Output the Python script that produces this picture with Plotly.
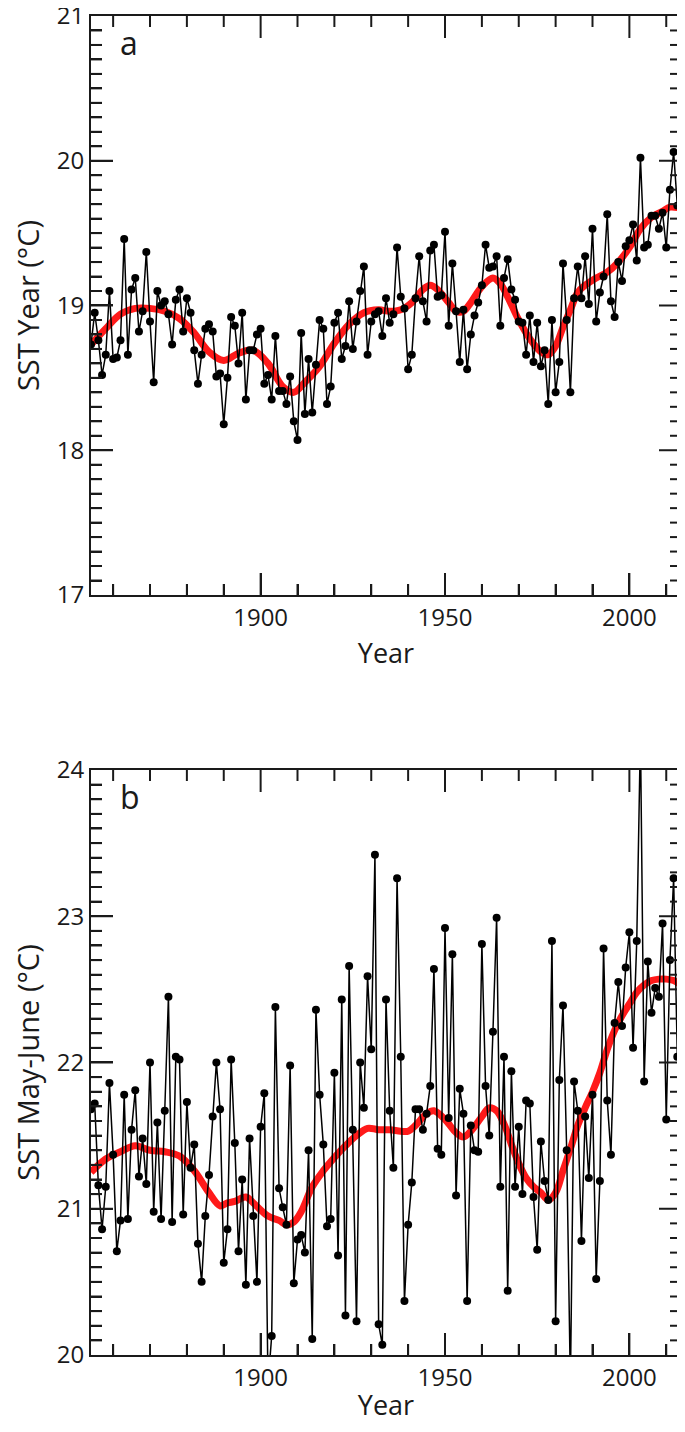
import plotly.graph_objects as go

# ---------------- data ----------------
years = list(range(1854, 2015))

# Panel a: annual SST (°C), 1854-2014
sst_year = [
    18.73, 18.95, 18.76, 18.52, 18.66, 19.10, 18.63, 18.64, 18.76, 19.46,  # 1854-1863
    18.66, 19.11, 19.19, 18.82, 18.96, 19.37, 18.89, 18.47, 19.10, 19.00,  # 1864-1873
    19.03, 18.94, 18.73, 19.04, 19.11, 18.82, 19.05, 18.95, 18.69, 18.46,  # 1874-1883
    18.66, 18.84, 18.87, 18.82, 18.51, 18.53, 18.18, 18.50, 18.92, 18.86,  # 1884-1893
    18.60, 18.95, 18.35, 18.69, 18.69, 18.80, 18.84, 18.46, 18.52, 18.35,  # 1894-1903
    18.79, 18.41, 18.41, 18.32, 18.51, 18.20, 18.07, 18.81, 18.25, 18.63,  # 1904-1913
    18.26, 18.59, 18.90, 18.84, 18.32, 18.44, 18.88, 18.95, 18.63, 18.72,  # 1914-1923
    19.03, 18.70, 18.89, 19.10, 19.27, 18.66, 18.89, 18.94, 18.96, 18.79,  # 1924-1933
    19.05, 18.88, 18.94, 19.40, 19.06, 18.98, 18.56, 18.66, 19.05, 19.34,  # 1934-1943
    19.03, 18.89, 19.38, 19.42, 19.06, 19.07, 19.51, 18.86, 19.29, 18.96,  # 1944-1953
    18.61, 18.97, 18.56, 18.80, 18.93, 19.02, 19.14, 19.42, 19.26, 19.27,  # 1954-1963
    19.34, 18.86, 19.19, 19.32, 19.11, 19.04, 18.89, 18.88, 18.66, 18.93,  # 1964-1973
    18.61, 18.88, 18.58, 18.69, 18.32, 18.90, 18.40, 18.61, 19.29, 18.90,  # 1974-1983
    18.40, 19.05, 19.27, 19.05, 19.34, 19.01, 19.53, 18.89, 19.09, 19.20,  # 1984-1993
    19.63, 19.03, 18.92, 19.30, 19.17, 19.41, 19.45, 19.56, 19.31, 20.02,  # 1994-2003
    19.40, 19.42, 19.62, 19.62, 19.53, 19.64, 19.40, 19.80, 20.06, 19.69,  # 2004-2013
    20.03,                                                                  # 2014
]

# Panel b: May-June SST (°C), 1854-2014
sst_mayjune = [
    21.68, 21.72, 21.16, 20.86, 21.15, 21.86, 21.37, 20.71, 20.92, 21.78,  # 1854-1863
    20.93, 21.54, 21.81, 21.22, 21.48, 21.17, 22.00, 20.98, 21.59, 20.93,  # 1864-1873
    21.67, 22.45, 20.91, 22.04, 22.02, 20.96, 21.73, 21.28, 21.44, 20.76,  # 1874-1883
    20.50, 20.95, 21.23, 21.63, 22.00, 21.68, 20.63, 20.86, 22.02, 21.45,  # 1884-1893
    20.71, 21.20, 20.48, 21.48, 20.95, 20.50, 21.56, 21.79, 19.80, 20.13,  # 1894-1903
    22.38, 21.14, 21.01, 20.89, 21.98, 20.49, 20.79, 20.82, 20.70, 21.40,  # 1904-1913
    20.11, 22.36, 21.78, 21.44, 20.88, 20.93, 21.93, 20.68, 22.43, 20.27,  # 1914-1923
    22.66, 21.54, 20.23, 22.00, 21.69, 22.59, 22.09, 23.42, 20.21, 20.07,  # 1924-1933
    22.43, 21.67, 21.28, 23.26, 22.04, 20.37, 20.89, 21.18, 21.68, 21.68,  # 1934-1943
    21.54, 21.65, 21.84, 22.64, 21.41, 21.37, 22.92, 21.62, 22.74, 21.09,  # 1944-1953
    21.82, 21.65, 20.37, 21.57, 21.40, 21.39, 22.81, 21.84, 21.50, 22.21,  # 1954-1963
    22.99, 21.15, 22.04, 20.44, 21.94, 21.15, 21.56, 21.10, 21.74, 21.72,  # 1964-1973
    21.08, 20.72, 21.46, 21.19, 21.06, 22.83, 20.23, 21.88, 22.39, 21.40,  # 1974-1983
    19.80, 21.87, 21.67, 20.78, 21.63, 21.21, 21.78, 20.52, 21.19, 22.78,  # 1984-1993
    21.74, 21.37, 22.27, 22.55, 22.25, 22.65, 22.89, 22.10, 22.83, 24.25,  # 1994-2003
    21.87, 22.69, 22.34, 22.51, 22.45, 22.95, 21.61, 22.70, 23.26, 22.04,  # 2004-2013
    22.30,                                                                  # 2014
]

# Smoothed curves
smooth_a_years = [1854, 1858, 1862, 1866, 1870, 1874, 1878, 1882, 1886, 1890,
                  1894, 1898, 1902, 1906, 1909, 1912, 1916, 1920, 1924, 1928,
                  1932, 1935, 1938, 1941, 1944, 1946, 1948, 1951, 1953, 1955,
                  1957, 1960, 1963, 1965, 1967, 1970, 1973, 1976, 1978, 1980,
                  1982, 1984, 1986, 1988, 1991, 1994, 1997, 2000, 2003, 2006,
                  2009, 2011, 2014]
smooth_a = [18.73, 18.84, 18.94, 18.98, 18.98, 18.96, 18.91, 18.81, 18.68, 18.62,
            18.67, 18.69, 18.60, 18.44, 18.40, 18.47, 18.58, 18.74, 18.87, 18.95,
            18.97, 18.96, 18.97, 19.02, 19.11, 19.14, 19.11, 19.02, 18.96, 18.96,
            19.02, 19.13, 19.19, 19.15, 19.06, 18.90, 18.77, 18.68, 18.66, 18.72,
            18.85, 18.97, 19.09, 19.14, 19.19, 19.23, 19.30, 19.40, 19.53, 19.61,
            19.65, 19.68, 19.67]

smooth_b_years = [1854, 1858, 1862, 1866, 1870, 1874, 1878, 1882, 1886, 1889,
                  1891, 1893, 1896, 1898, 1902, 1905, 1907, 1909, 1911, 1914,
                  1917, 1920, 1923, 1926, 1929, 1932, 1935, 1938, 1940, 1942,
                  1945, 1947, 1950, 1953, 1955, 1957, 1960, 1962, 1964, 1966,
                  1968, 1970, 1972, 1974, 1976, 1978, 1980, 1982, 1984, 1986,
                  1988, 1990, 1992, 1994, 1996, 1998, 2000, 2002, 2004, 2006,
                  2008, 2010, 2012, 2014]
smooth_b = [21.25, 21.34, 21.39, 21.43, 21.40, 21.39, 21.36, 21.26, 21.11, 21.02,
            21.04, 21.05, 21.08, 21.04, 20.95, 20.92, 20.89, 20.91, 20.98, 21.15,
            21.26, 21.35, 21.43, 21.50, 21.55, 21.54, 21.54, 21.53, 21.53, 21.57,
            21.65, 21.67, 21.61, 21.52, 21.49, 21.53, 21.63, 21.69, 21.67, 21.58,
            21.44, 21.31, 21.21, 21.15, 21.11, 21.06, 21.11, 21.26, 21.41, 21.57,
            21.69, 21.80, 21.93, 22.09, 22.22, 22.32, 22.40, 22.48, 22.53, 22.56,
            22.57, 22.57, 22.56, 22.53]

x_ticks = [1900, 1950, 2000]
y_ticks_a = [17, 18, 19, 20, 21]
y_ticks_b = [20, 21, 22, 23, 24]
y_range_a = [17, 21]
y_range_b = [20, 24]
x_range = [1854, 2014]

# ---------------- style ----------------
# The page body has an 8px default margin, so the figure is sized to fit inside it.
FIG_W, FIG_H = 676, 1415
FONT = "Open Sans"
TXT = "#1a1a1a"
AX = "#1a1a1a"
RED = "#ff1a1a"
DOM_A = [0.5676, 1.0]
DOM_B = [0.0, 0.4369]
PLOT_W = 590.0               # plot width in px
PANEL_H_A, PANEL_H_B = 579.0, 585.0
MAJ, MIN = 22.0, 11.0        # tick lengths in px

fig = go.Figure()

fig.add_trace(go.Scatter(x=smooth_a_years, y=smooth_a, mode="lines",
                         line=dict(color=RED, width=7, shape="spline", smoothing=1.0),
                         xaxis="x", yaxis="y", showlegend=False, hoverinfo="skip"))
fig.add_trace(go.Scatter(x=years, y=sst_year, mode="lines+markers",
                         line=dict(color="black", width=1.5),
                         marker=dict(color="black", size=8),
                         xaxis="x", yaxis="y", showlegend=False))
fig.add_trace(go.Scatter(x=smooth_b_years, y=smooth_b, mode="lines",
                         line=dict(color=RED, width=7, shape="spline", smoothing=1.0),
                         xaxis="x2", yaxis="y2", showlegend=False, hoverinfo="skip"))
fig.add_trace(go.Scatter(x=years, y=sst_mayjune, mode="lines+markers",
                         line=dict(color="black", width=1.5),
                         marker=dict(color="black", size=8),
                         xaxis="x2", yaxis="y2", showlegend=False))


def tick_shapes(xa, ya, y_major, panel_h):
    """Inside tick marks on all four sides, in axis coordinates."""
    shapes = []
    line = dict(color=AX, width=2)
    for yr in range(1860, 2011, 10):
        ln = MAJ if yr in x_ticks else MIN
        f = ln / panel_h
        shapes.append(dict(type="line", xref=xa, yref=ya + " domain",
                           x0=yr, x1=yr, y0=1 - f, y1=1, line=line, layer="above"))
        shapes.append(dict(type="line", xref=xa, yref=ya + " domain",
                           x0=yr, x1=yr, y0=0, y1=f, line=line, layer="above"))
    lo = y_major[0]
    for k in range(1, 10 * (len(y_major) - 1)):
        v = lo + k / 10.0
        ln = MAJ if k % 10 == 0 else MIN
        f = ln / PLOT_W
        shapes.append(dict(type="line", xref=xa + " domain", yref=ya,
                           x0=1 - f, x1=1, y0=v, y1=v, line=line, layer="above"))
        shapes.append(dict(type="line", xref=xa + " domain", yref=ya,
                           x0=0, x1=f, y0=v, y1=v, line=line, layer="above"))
    return shapes


def x_cfg(anchor):
    return dict(anchor=anchor, domain=[0, 1], range=x_range, automargin=False,
                tickvals=x_ticks, ticks="inside", ticklen=22, tickwidth=2, tickcolor=AX,
                minor=dict(dtick=10, tick0=1850, ticks="inside", ticklen=11,
                           tickwidth=2, tickcolor=AX),
                showline=True, linewidth=2, linecolor=AX, mirror=True,
                showgrid=False, zeroline=False, ticklabeloverflow="allow",
                tickfont=dict(family=FONT, size=24, color=TXT),
                title=dict(text="Year", font=dict(family=FONT, size=27, color=TXT), standoff=12))


def y_cfg(anchor, rng, domain, title, tickvals):
    return dict(anchor=anchor, domain=domain, range=rng, automargin=False,
                tickvals=tickvals, ticks="inside", ticklen=22, tickwidth=2, tickcolor=AX,
                minor=dict(dtick=0.1, ticks="inside", ticklen=11,
                           tickwidth=2, tickcolor=AX),
                showline=True, linewidth=2, linecolor=AX, mirror=True,
                showgrid=False, zeroline=False, ticklabeloverflow="allow",
                tickfont=dict(family=FONT, size=24, color=TXT),
                title=dict(text=title, font=dict(family=FONT, size=29, color=TXT), standoff=32))


fig.update_layout(
    template="none",
    width=FIG_W, height=FIG_H,
    margin=dict(l=83, r=3, t=8, b=68),
    paper_bgcolor="white", plot_bgcolor="white",
    xaxis=x_cfg("y"),
    yaxis=y_cfg("x", y_range_a, DOM_A, "SST Year (°C)", y_ticks_a),
    xaxis2=x_cfg("y2"),
    yaxis2=y_cfg("x2", y_range_b, DOM_B, "SST May-June (°C)", y_ticks_b),
    shapes=tick_shapes("x", "y", y_ticks_a, PANEL_H_A) + tick_shapes("x2", "y2", y_ticks_b, PANEL_H_B),
    annotations=[
        dict(text="a", xref="x domain", yref="y domain", x=0.045, y=0.955,
             xanchor="left", yanchor="middle", showarrow=False,
             font=dict(family=FONT, size=32, color=TXT)),
        dict(text="b", xref="x2 domain", yref="y2 domain", x=0.045, y=0.955,
             xanchor="left", yanchor="middle", showarrow=False,
             font=dict(family=FONT, size=32, color=TXT)),
    ],
)

fig.write_html("out.html")
